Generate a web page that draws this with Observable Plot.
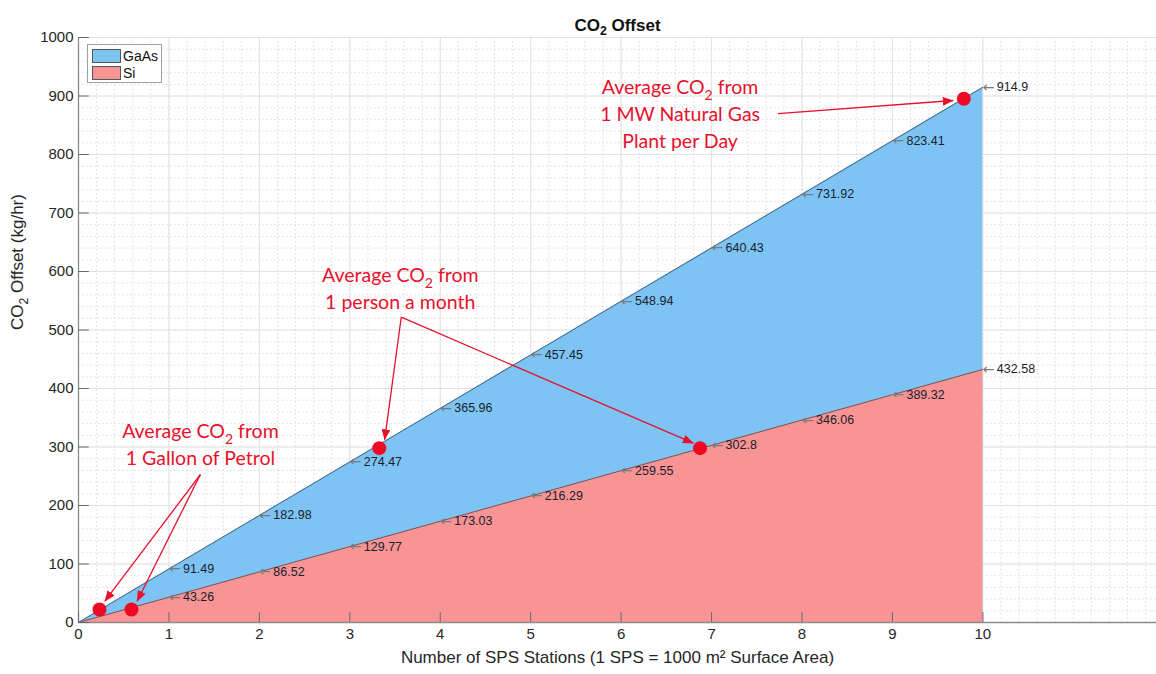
<!DOCTYPE html>
<html><head><meta charset="utf-8">
<script src="https://cdn.jsdelivr.net/npm/d3@7"></script>
<script src="https://cdn.jsdelivr.net/npm/@observablehq/plot@0.6"></script>
<style>
body{margin:0;background:#fff;}
#wrap{position:relative;width:1156px;height:674px;}
#legend{position:absolute;left:87px;top:44px;width:73px;height:37px;border:1.5px solid #a0a0a0;background:#fff;font:14px "Liberation Sans",Arial,sans-serif;color:#111;}
.item{position:absolute;left:4px;display:flex;align-items:center;height:15px;}
.sw{width:29px;height:14px;border:1px solid #555;margin-right:2px;box-sizing:border-box;}
</style></head><body>
<div id="wrap"><div id="legend"></div></div>
<script>
// ---- data ----
const stations = [0, 1, 2, 3, 4, 5, 6, 7, 8, 9, 10];
const gaasValues = [0, 91.49, 182.98, 274.47, 365.96, 457.45, 548.94, 640.43, 731.92, 823.41, 914.9];
const siValues = [0, 43.26, 86.52, 129.77, 173.03, 216.29, 259.55, 302.8, 346.06, 389.32, 432.58];
const seriesNames = ["GaAs", "Si"];
const seriesColors = ["#7DC4F5", "#F89494"];
const xTicks = [0, 1, 2, 3, 4, 5, 6, 7, 8, 9, 10];
const yTicks = [0, 100, 200, 300, 400, 500, 600, 700, 800, 900, 1000];
const xMax = 11.92;

// annotations
const noteTexts = [
  "Average CO₂ from\n1 Gallon of Petrol",
  "Average CO₂ from\n1 person a month",
  "Average CO₂ from\n1 MW Natural Gas\nPlant per Day"
];
const noteX = [1.348, 3.558, 6.652];
const noteY = [306.8, 573.5, 871.8];
const arrowX1 = [1.348, 1.348, 3.569, 3.569, 7.735];
const arrowY1 = [253, 253, 521.9, 521.9, 870];
const arrowX2 = [0.291, 0.648, 3.385, 6.799, 9.672];
const arrowY2 = [36.4, 36.4, 312.3, 306.5, 892.3];
const markerX = [0.232, 0.586, 3.326, 6.873, 9.790];
const markerY = [22.2, 22.2, 298, 298, 895.2];

const titleText = "CO₂ Offset";
const yLabel = "CO₂ Offset (kg/hr)";
const xLabel = "Number of SPS Stations (1 SPS = 1000 m² Surface Area)";

// ---- derived tables ----
const rows = stations.map((s, i) => ({s, gaas: gaasValues[i], si: siValues[i]}));
const labelRows = rows.filter(d => d.s > 0).flatMap(d => [{s: d.s, v: d.gaas}, {s: d.s, v: d.si}]);
const minorX = d3.range(0, xMax, 0.2);
const minorY = d3.range(0, 1001, 20);
const noteIdx = d3.range(noteTexts.length);
const arrowIdx = d3.range(arrowX1.length);
const markerIdx = d3.range(markerX.length);

const RED = "#E8112D";
const plot = Plot.plot({
  width: 1156, height: 674,
  marginLeft: 78, marginRight: 0, marginTop: 37, marginBottom: 52,
  style: {fontFamily: '"Liberation Sans", Arial, sans-serif', fontSize: "15px", color: "#262626", background: "#fff"},
  x: {domain: [0, xMax]},
  y: {domain: [0, 1000]},
  marks: [
    Plot.ruleX(minorX, {stroke: "#d3d3d3", strokeDasharray: "1.5,2.5", strokeWidth: 0.8}),
    Plot.ruleY(minorY, {stroke: "#d3d3d3", strokeDasharray: "1.5,2.5", strokeWidth: 0.8}),
    Plot.ruleX(xTicks, {stroke: "#e2e2e2"}),
    Plot.ruleY(yTicks, {stroke: "#e2e2e2"}),
    Plot.areaY(rows, {x: "s", y: "gaas", fill: seriesColors[0]}),
    Plot.areaY(rows, {x: "s", y: "si", fill: seriesColors[1]}),
    Plot.line(rows, {x: "s", y: "gaas", stroke: "#3d4a5c", strokeWidth: 0.8}),
    Plot.line(rows, {x: "s", y: "si", stroke: "#3d4a5c", strokeWidth: 0.8}),
    // axes lines and inward ticks
    Plot.ruleY([0], {stroke: "#8a8a8a", strokeWidth: 1.3}),
    Plot.ruleX([0], {stroke: "#8a8a8a", strokeWidth: 1.3}),
    Plot.ruleY(yTicks, {x1: 0, x2: 0.12, stroke: "#6a6a6a"}),
    Plot.ruleX(xTicks, {y1: 0, y2: 17, stroke: "#6a6a6a"}),
    Plot.axisX(xTicks, {tickSize: 0, tickPadding: 6, label: null, tickFormat: d => String(d), fontSize: 15}),
    Plot.axisY(yTicks, {tickSize: 0, tickPadding: 5, label: null, tickFormat: d => String(d), fontSize: 15}),
    // data labels
    Plot.text(labelRows, {x: "s", y: "v", text: () => "←", textAnchor: "start", fill: "#7a7a7a", fontSize: 14, fontFamily: '"DejaVu Sans", sans-serif'}),
    Plot.text(labelRows, {x: "s", y: "v", text: d => String(d.v), textAnchor: "start", dx: 14, fill: "#1c1c2c", fontSize: 12.5}),
    // annotations
    Plot.link(arrowIdx, {x1: i => arrowX1[i], y1: i => arrowY1[i], x2: i => arrowX2[i], y2: i => arrowY2[i], stroke: RED, strokeWidth: 1.3}),
    Plot.dot(markerIdx, {x: i => markerX[i], y: i => markerY[i], r: 7, fill: "#EE0A24"}),
    Plot.text(noteIdx, {x: i => noteX[i], y: i => noteY[i], text: i => noteTexts[i], fill: RED, fontSize: 19.5, fontFamily: "Lato, 'Open Sans', sans-serif", lineHeight: 1.38}),
    // titles
    Plot.text([titleText], {text: d => d, frameAnchor: "top", dy: -19, fontWeight: "bold", fontSize: 17, fill: "#111"}),
    Plot.text([yLabel], {text: d => d, frameAnchor: "left", dx: -61, rotate: -90, fontSize: 17, fill: "#262626"}),
    Plot.text([xLabel], {text: d => d, frameAnchor: "bottom", dy: 40, fontSize: 17, fill: "#262626"})
  ]
});

const svg = d3.select(plot);
// force tick label size
svg.selectAll('g[aria-label="x-axis tick label"], g[aria-label="y-axis tick label"]').attr("font-size", 15).attr("fill", "#262626");

// arrowheads (filled triangles)
const defs = svg.append("defs");
defs.append("marker").attr("id", "redhead").attr("viewBox", "0 0 10 8")
  .attr("refX", 9.5).attr("refY", 4).attr("markerWidth", 11).attr("markerHeight", 8.8)
  .attr("markerUnits", "userSpaceOnUse").attr("orient", "auto")
  .append("path").attr("d", "M0,0L10,4L0,8Z").attr("fill", RED);
svg.selectAll('g[aria-label="link"] path').attr("marker-end", "url(#redhead)");

// subscripts for CO₂
const NS = "http://www.w3.org/2000/svg";
plot.querySelectorAll("text, tspan").forEach(el => {
  const direct = [...el.childNodes].some(n => n.nodeType === 3 && n.nodeValue.includes("₂"));
  if (!direct) return;
  const [a, b] = el.textContent.split("₂");
  while (el.firstChild) el.removeChild(el.firstChild);
  el.appendChild(document.createTextNode(a));
  const sub = document.createElementNS(NS, "tspan");
  sub.setAttribute("font-size", "72%"); sub.setAttribute("dy", "0.4em"); sub.textContent = "2";
  el.appendChild(sub);
  const rest = document.createElementNS(NS, "tspan");
  rest.setAttribute("dy", "-0.288em"); rest.textContent = b;
  el.appendChild(rest);
});

const wrap = document.getElementById("wrap");
wrap.insertBefore(plot, wrap.firstChild);

// legend
const legend = d3.select("#legend");
seriesNames.forEach((name, i) => {
  const item = legend.append("div").attr("class", "item").style("top", (3 + i * 17) + "px");
  item.append("div").attr("class", "sw").style("background", seriesColors[i]);
  item.append("span").text(name);
});
</script>
</body></html>
